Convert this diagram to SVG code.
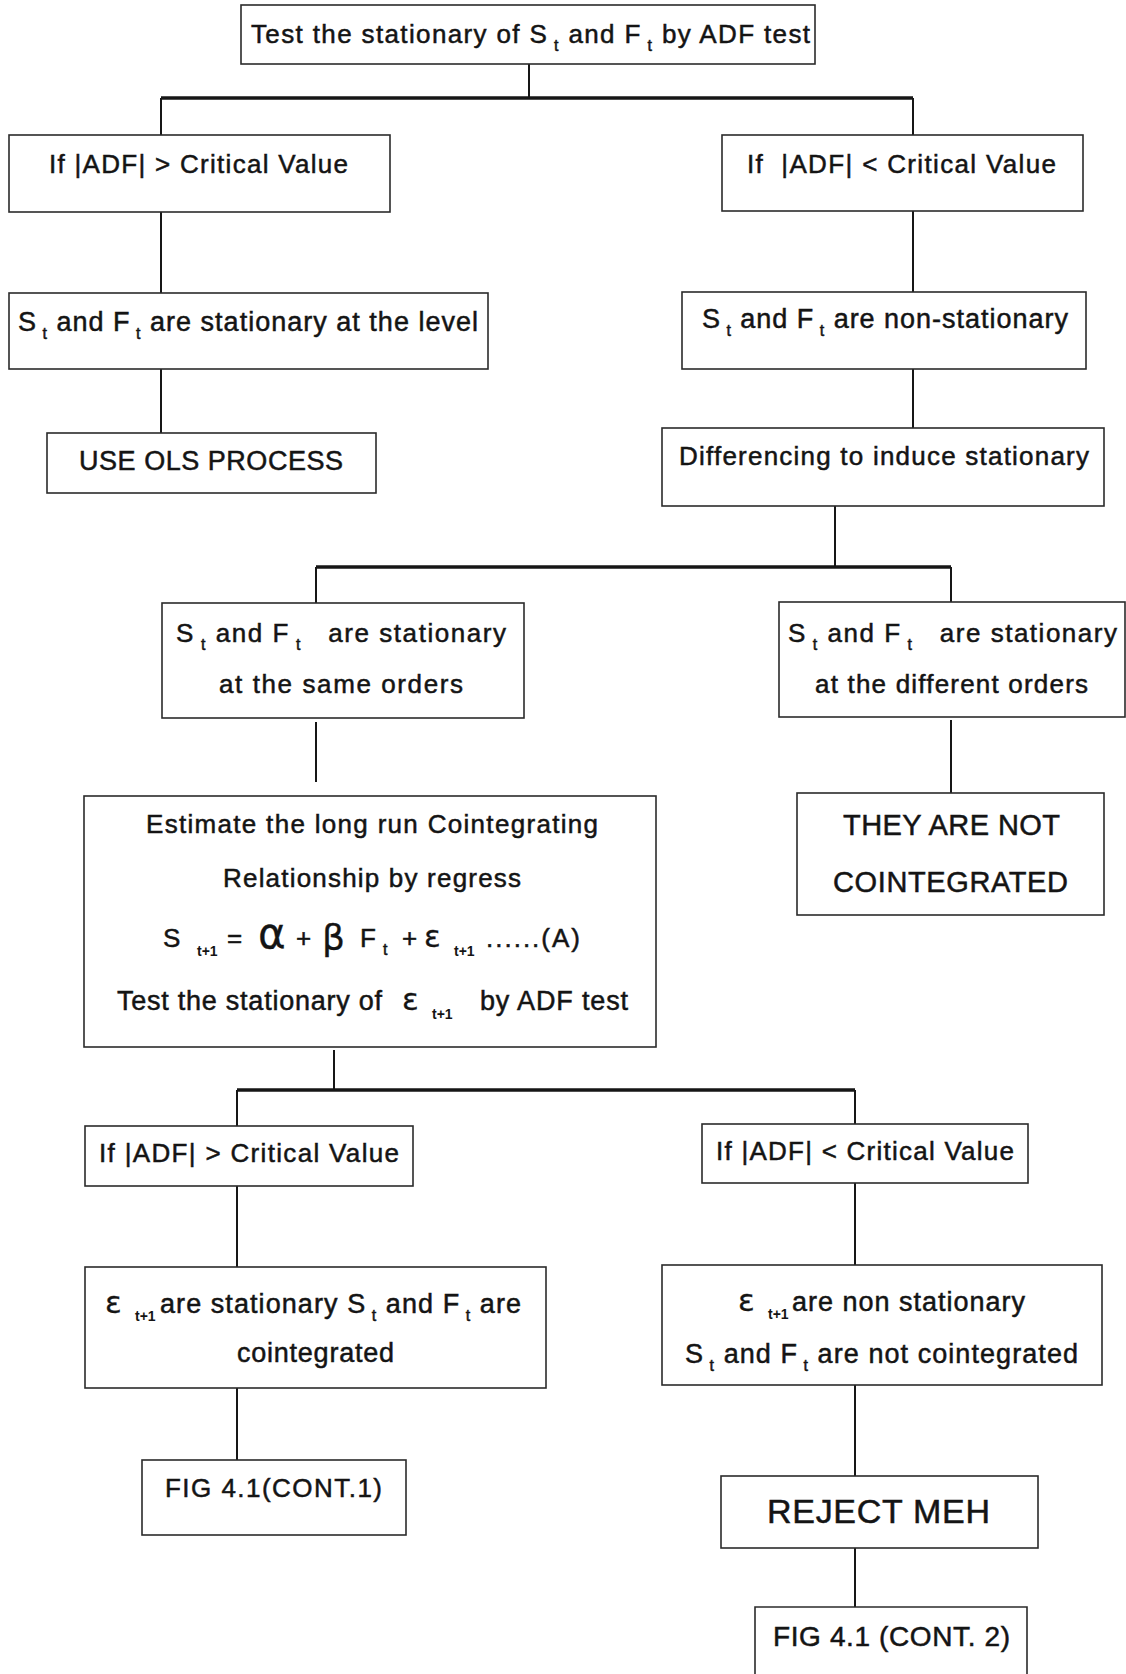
<svg xmlns="http://www.w3.org/2000/svg" width="1126" height="1674" viewBox="0 0 1126 1674">
<style>
.box{fill:#fff;stroke:#2b2b2b;stroke-width:1.6}
.ln{stroke:#161616;stroke-width:2;fill:none}
.th{stroke-width:3.6}
text{font-family:"Liberation Sans",Arial,sans-serif;fill:#141414;stroke:#141414;stroke-width:0.5;font-size:26px}
text.s,tspan.s{font-size:16px}
text.s1{font-size:14px;font-weight:bold;stroke-width:0}
text.f26{font-size:27px}
text.f27{font-size:27px}
text.f29{font-size:29px}
text.f28{font-size:28px}
text.f34{font-size:34px}
text.gk{font-family:"DejaVu Sans","Noto Sans",sans-serif;stroke-width:0.3}
text.al{font-size:42px}
text.be{font-size:36px}
text.ep{font-size:31px}
</style>
<rect x="0" y="0" width="1126" height="1674" fill="#fff"/>
<g id="connectors">
<path class="ln" d="M529,64 V98"/>
<path class="ln th" d="M161,98 H913"/>
<path class="ln" d="M161,98 V135 M913,98 V135"/>
<path class="ln" d="M161,212 V293 M913,211 V292"/>
<path class="ln" d="M161,369 V433 M913,369 V428"/>
<path class="ln" d="M835,506 V567"/>
<path class="ln th" d="M316,567 H951"/>
<path class="ln" d="M316,567 V603 M951,567 V602"/>
<path class="ln" d="M316,722 V782 M951,720 V793"/>
<path class="ln" d="M334,1050 V1090"/>
<path class="ln th" d="M237,1090 H855"/>
<path class="ln" d="M237,1090 V1126 M855,1090 V1124"/>
<path class="ln" d="M237,1186 V1267 M855,1183 V1265"/>
<path class="ln" d="M237,1388 V1460 M855,1385 V1476"/>
<path class="ln" d="M855,1548 V1607"/>
</g>
<g id="n-test">
<rect class="box" x="241" y="5" width="574" height="59"/>
<text x="251" y="43" textLength="559">Test the stationary of S<tspan class="s" dy="8"> t</tspan><tspan dy="-8"> and F</tspan><tspan class="s" dy="8"> t</tspan><tspan dy="-8"> by ADF test</tspan></text>
</g>
<g id="n-adf-gt">
<rect class="box" x="9" y="135" width="381" height="77"/>
<text x="49" y="173" textLength="299">If |ADF| &gt; Critical Value</text>
</g>
<g id="n-adf-lt">
<rect class="box" x="722" y="135" width="361" height="76"/>
<text x="747" y="173" textLength="309">If&#160; |ADF| &lt; Critical Value</text>
</g>
<g id="n-stat-level">
<rect class="box" x="9" y="293" width="479" height="76"/>
<text class="f26" x="18" y="331" textLength="460">S<tspan class="s" dy="8"> t</tspan><tspan dy="-8"> and F</tspan><tspan class="s" dy="8"> t</tspan><tspan dy="-8"> are stationary at the level</tspan></text>
</g>
<g id="n-nonstat">
<rect class="box" x="682" y="292" width="404" height="77"/>
<text class="f26" x="702" y="328" textLength="366">S<tspan class="s" dy="8"> t</tspan><tspan dy="-8"> and F</tspan><tspan class="s" dy="8"> t</tspan><tspan dy="-8"> are non-stationary</tspan></text>
</g>
<g id="n-ols">
<rect class="box" x="47" y="433" width="329" height="60"/>
<text class="f26" x="79" y="470" textLength="264">USE OLS PROCESS</text>
</g>
<g id="n-diff">
<rect class="box" x="662" y="428" width="442" height="78"/>
<text x="679" y="465" textLength="410">Differencing to induce stationary</text>
</g>
<g id="n-same">
<rect class="box" x="162" y="603" width="362" height="115"/>
<text x="176" y="642" textLength="330">S<tspan class="s" dy="8"> t</tspan><tspan dy="-8"> and F</tspan><tspan class="s" dy="8"> t</tspan><tspan dy="-8">&#160;&#160; are stationary</tspan></text>
<text x="219" y="693" textLength="244">at the same orders</text>
</g>
<g id="n-different">
<rect class="box" x="779" y="602" width="346" height="115"/>
<text x="788" y="642" textLength="329">S<tspan class="s" dy="8"> t</tspan><tspan dy="-8"> and F</tspan><tspan class="s" dy="8"> t</tspan><tspan dy="-8">&#160;&#160; are stationary</tspan></text>
<text x="815" y="693" textLength="273">at the different orders</text>
</g>
<g id="n-estimate">
<rect class="box" x="84" y="796" width="572" height="251"/>
<text x="146" y="833" textLength="452">Estimate the long run Cointegrating</text>
<text x="223" y="887" textLength="298">Relationship by regress</text>
<text x="163" y="947">S</text>
<text class="s1" x="197" y="956">t+1</text>
<text x="227" y="947">=</text>
<text class="gk al" x="258" y="948">α</text>
<text x="296" y="947">+</text>
<text class="gk be" x="322" y="950">β</text>
<text x="360" y="947">F</text>
<text class="s" x="383" y="955">t</text>
<text x="402" y="947">+</text>
<text class="gk ep" x="424" y="947">ε</text>
<text class="s1" x="454" y="956">t+1</text>
<text x="486" y="947" textLength="94">......(A)</text>
<text class="f27" x="117" y="1010" textLength="265">Test the stationary of</text>
<text class="gk ep" x="402" y="1010">ε</text>
<text class="s1" x="432" y="1019">t+1</text>
<text class="f27" x="480" y="1010" textLength="148">by ADF test</text>
</g>
<g id="n-not-coint">
<rect class="box" x="797" y="793" width="307" height="122"/>
<text class="f29" x="843" y="835" textLength="217">THEY ARE NOT</text>
<text class="f29" x="833" y="892" textLength="235">COINTEGRATED</text>
</g>
<g id="n-adf-gt2">
<rect class="box" x="85" y="1126" width="328" height="60"/>
<text x="99" y="1162" textLength="300">If |ADF| &gt; Critical Value</text>
</g>
<g id="n-adf-lt2">
<rect class="box" x="702" y="1124" width="326" height="59"/>
<text x="716" y="1160" textLength="298">If |ADF| &lt; Critical Value</text>
</g>
<g id="n-coint">
<rect class="box" x="85" y="1267" width="461" height="121"/>
<text class="gk ep" x="105" y="1313">ε</text>
<text class="s1" x="135" y="1321">t+1</text>
<text class="f27" x="160" y="1313" textLength="361">are stationary S<tspan class="s" dy="8"> t</tspan><tspan dy="-8"> and F</tspan><tspan class="s" dy="8"> t</tspan><tspan dy="-8"> are</tspan></text>
<text class="f27" x="237" y="1362" textLength="157">cointegrated</text>
</g>
<g id="n-nonstat2">
<rect class="box" x="662" y="1265" width="440" height="120"/>
<text class="gk ep" x="738" y="1311">ε</text>
<text class="s1" x="768" y="1319">t+1</text>
<text class="f27" x="792" y="1311" textLength="233">are non stationary</text>
<text class="f27" x="685" y="1363" textLength="393">S<tspan class="s" dy="8"> t</tspan><tspan dy="-8"> and F</tspan><tspan class="s" dy="8"> t</tspan><tspan dy="-8"> are not cointegrated</tspan></text>
</g>
<g id="n-fig1">
<rect class="box" x="142" y="1460" width="264" height="75"/>
<text x="165" y="1497" textLength="217">FIG 4.1(CONT.1)</text>
</g>
<g id="n-reject">
<rect class="box" x="721" y="1476" width="317" height="72"/>
<text class="f34" x="767" y="1523" textLength="223">REJECT MEH</text>
</g>
<g id="n-fig2">
<path class="box" d="M755,1676 V1607 H1027 V1676"/>
<text class="f28" x="773" y="1646" textLength="237">FIG 4.1 (CONT. 2)</text>
</g>
</svg>
